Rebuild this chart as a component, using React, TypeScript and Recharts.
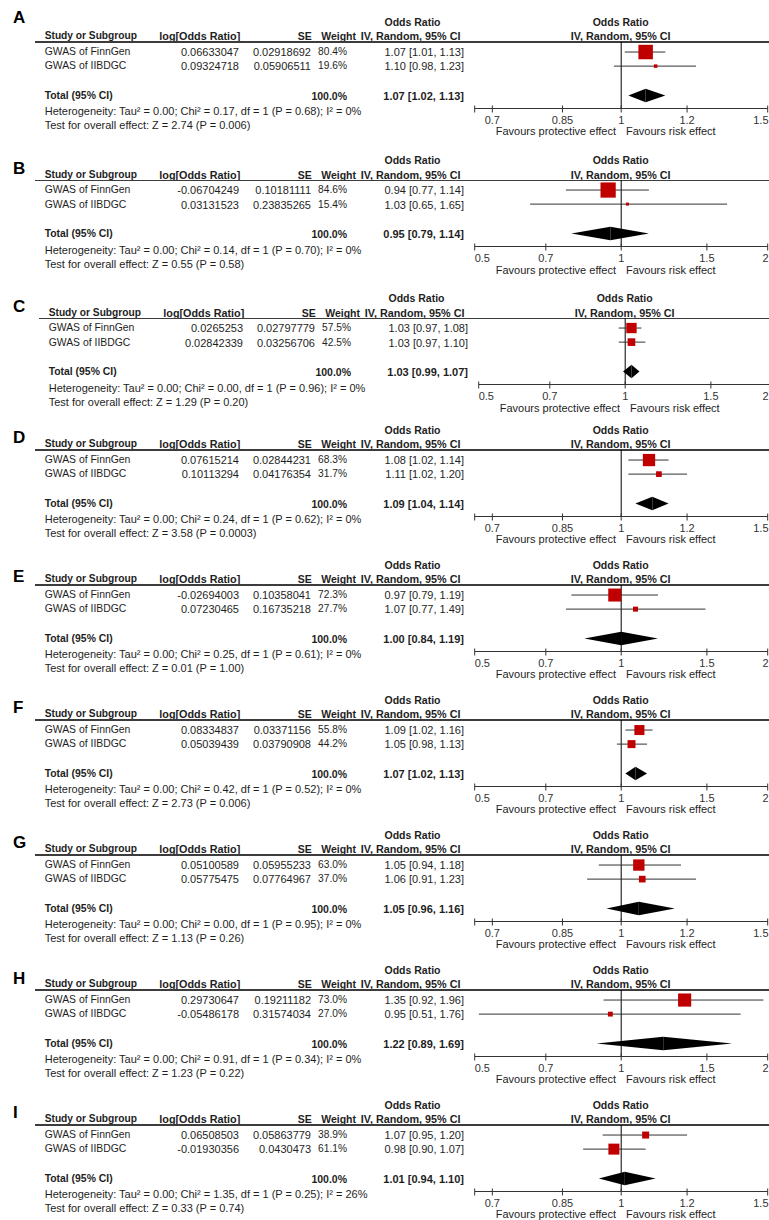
import React from 'react';
import { ScatterChart, Scatter, XAxis, YAxis, ReferenceLine, ReferenceArea } from 'recharts';

const panelLetters = ['A', 'B', 'C', 'D', 'E', 'F', 'G', 'H', 'I'];
const studyNames = ['GWAS of FinnGen', 'GWAS of IIBDGC'];

const logOddsRatio = [
  ['0.06633047', '0.09324718'],
  ['-0.06704249', '0.03131523'],
  ['0.0265253', '0.02842339'],
  ['0.07615214', '0.10113294'],
  ['-0.02694003', '0.07230465'],
  ['0.08334837', '0.05039439'],
  ['0.05100589', '0.05775475'],
  ['0.29730647', '-0.05486178'],
  ['0.06508503', '-0.01930356'],
];
const standardErrors = [
  ['0.02918692', '0.05906511'],
  ['0.10181111', '0.23835265'],
  ['0.02797779', '0.03256706'],
  ['0.02844231', '0.04176354'],
  ['0.10358041', '0.16735218'],
  ['0.03371156', '0.03790908'],
  ['0.05955233', '0.07764967'],
  ['0.19211182', '0.31574034'],
  ['0.05863779', '0.0430473'],
];
const weights = [
  [80.4, 19.6], [84.6, 15.4], [57.5, 42.5], [68.3, 31.7], [72.3, 27.7],
  [55.8, 44.2], [63.0, 37.0], [73.0, 27.0], [38.9, 61.1],
];
const oddsRatios = [
  [1.07, 1.10], [0.94, 1.03], [1.03, 1.03], [1.08, 1.11], [0.97, 1.07],
  [1.09, 1.05], [1.05, 1.06], [1.35, 0.95], [1.07, 0.98],
];
const ciLower = [
  [1.01, 0.98], [0.77, 0.65], [0.97, 0.97], [1.02, 1.02], [0.79, 0.77],
  [1.02, 0.98], [0.94, 0.91], [0.92, 0.51], [0.95, 0.90],
];
const ciUpper = [
  [1.13, 1.23], [1.14, 1.65], [1.08, 1.10], [1.14, 1.20], [1.19, 1.49],
  [1.16, 1.13], [1.18, 1.23], [1.96, 1.76], [1.20, 1.07],
];
const totalOr = [1.07, 0.95, 1.03, 1.09, 1.00, 1.07, 1.05, 1.22, 1.01];
const totalLower = [1.02, 0.79, 0.99, 1.04, 0.84, 1.02, 0.96, 0.89, 0.94];
const totalUpper = [1.13, 1.14, 1.07, 1.14, 1.19, 1.13, 1.16, 1.69, 1.10];
const chiSquare = ['0.17', '0.14', '0.00', '0.24', '0.25', '0.42', '0.00', '0.91', '1.35'];
const hetP = ['0.68', '0.70', '0.96', '0.62', '0.61', '0.52', '0.95', '0.34', '0.25'];
const iSquare = ['0', '0', '0', '0', '0', '0', '0', '0', '26'];
const zScores = ['2.74', '0.55', '1.29', '3.58', '0.01', '2.73', '1.13', '1.23', '0.33'];
const zP = ['0.006', '0.58', '0.20', '0.0003', '1.00', '0.006', '0.26', '0.22', '0.74'];
const axisLimit = [1.5, 2, 2, 1.5, 2, 2, 1.5, 2, 1.5];
const narrowTicks = [0.7, 0.85, 1, 1.2, 1.5];
const wideTicks = [0.5, 0.7, 1, 1.5, 2];

// layout (page px)
const headerY = [36, 174.7, 312.5, 444.3, 579, 714.3, 849.3, 984, 1119.3];
const letterY = [18.3, 169, 306.7, 438.3, 576.7, 708.3, 843.3, 979.3, 1113.3];
const shiftX = [0, 0, 4, 0, 0, 0, 0, 0, 0];
const CHART_LEFT = 470;

const FONT = "Arial, 'Liberation Sans', sans-serif";
const TEXT = '#1e1e1e';

const f2 = (v: number) => v.toFixed(2);
const ciText = (o: number, l: number, h: number) => `${f2(o)} [${f2(l)}, ${f2(h)}]`;

function T({ x, y, children, align = 'left', bold = false, size = 11 }: any) {
  const tr = align === 'right' ? 'translateX(-100%)' : align === 'center' ? 'translateX(-50%)' : undefined;
  return (
    <div style={{
      position: 'absolute', left: x, top: y - 7, lineHeight: '14px', height: 14,
      fontSize: size, fontWeight: bold ? 'bold' : 'normal', whiteSpace: 'nowrap',
      transform: tr, color: TEXT, fontFamily: FONT,
    }}>{children}</div>
  );
}

function AxisTick(props: any) {
  const { x, y, payload, limit, shift } = props;
  const v = payload.value;
  const axisY = y - 6;
  const isStart = Math.abs(v - 1 / limit) < 1e-6;
  const isEnd = Math.abs(v - limit) < 1e-6;
  const label = isStart && limit !== 2 ? '' : String(v);
  const anchor = isStart ? 'start' : isEnd ? 'end' : 'middle';
  // keep the last label inside the page
  const tx = isEnd ? Math.min(x + 1.3, 768.5 - CHART_LEFT - shift) : x;
  return (
    <g>
      <line x1={x} x2={x} y1={axisY - 3} y2={axisY + 4} stroke="#333" strokeWidth={1} />
      {label && (
        <text x={tx} y={axisY + 15} textAnchor={anchor} fontSize={11} fill="#333" fontFamily={FONT}>
          {label}
        </text>
      )}
    </g>
  );
}

const Square = (props: any) => {
  const { cx, cy, payload } = props;
  const s = Math.max(3, payload.w * 0.18);
  return <rect x={cx - s / 2} y={cy - s / 2} width={s} height={s} fill="#c00000" />;
};

const leftHalf = (p: any) => (
  <polygon points={`${p.x},${p.y + p.height / 2} ${p.x + p.width},${p.y} ${p.x + p.width},${p.y + p.height}`} fill="#000" />
);
const rightHalf = (p: any) => (
  <polygon points={`${p.x},${p.y} ${p.x + p.width},${p.y + p.height / 2} ${p.x},${p.y + p.height}`} fill="#000" />
);

function Panel({ i }: { i: number }) {
  const H = 36;
  const limit = axisLimit[i];
  const ticks = limit === 2 ? wideTicks : [1 / limit, ...narrowTicks];
  const rowPos = [0.77, 1.85];
  const totalPos = 4.1;
  const pts = [0, 1].map((k) => ({ x: oddsRatios[i][k], y: rowPos[k], w: weights[i][k] }));
  const textRows = [H + 15.5, H + 30];

  return (
    <div style={{ position: 'absolute', left: shiftX[i], top: headerY[i] - H, width: 769, height: 135 }}>
      {/* headers */}
      <T x={412.5} y={H - 14.5} bold size={10.5} align="center">Odds Ratio</T>
      <T x={620.7} y={H - 14.5} bold size={10.5} align="center">Odds Ratio</T>
      <T x={44.7} y={H} bold size={10.2}>Study or Subgroup</T>
      <T x={159.3} y={H} bold size={10.8}>log[Odds Ratio]</T>
      <T x={311.7} y={H} bold size={10.5} align="right">SE</T>
      <T x={356} y={H} bold size={10.5} align="right">Weight</T>
      <T x={360.7} y={H} bold size={10.8}>IV, Random, 95% CI</T>
      <T x={620.7} y={H} bold size={10.8} align="center">IV, Random, 95% CI</T>
      <div style={{ position: 'absolute', left: 35, top: H + 5, width: 769 - 35, height: 1.5, background: '#3c3c3c' }} />

      {/* study rows */}
      {[0, 1].map((k) => (
        <React.Fragment key={k}>
          <T x={44.7} y={textRows[k]} size={10.4}>{studyNames[k]}</T>
          <T x={239} y={textRows[k]} align="right">{logOddsRatio[i][k]}</T>
          <T x={311} y={textRows[k]} align="right">{standardErrors[i][k]}</T>
          <T x={347} y={textRows[k]} size={10.2} align="right">{weights[i][k].toFixed(1)}%</T>
          <T x={464} y={textRows[k]} align="right">{ciText(oddsRatios[i][k], ciLower[i][k], ciUpper[i][k])}</T>
        </React.Fragment>
      ))}

      <T x={44.7} y={H + 59.5} bold size={10.4}>Total (95% CI)</T>
      <T x={347} y={H + 59.5} bold size={10.5} align="right">100.0%</T>
      <T x={464} y={H + 59.5} bold align="right">{ciText(totalOr[i], totalLower[i], totalUpper[i])}</T>
      <T x={44.7} y={H + 75}>
        {`Heterogeneity: Tau² = 0.00; Chi² = ${chiSquare[i]}, df = 1 (P = ${hetP[i]}); I² = ${iSquare[i]}%`}
      </T>
      <T x={44.7} y={H + 89}>{`Test for overall effect: Z = ${zScores[i]} (P = ${zP[i]})`}</T>

      <T x={616} y={H + 95} align="right">Favours protective effect</T>
      <T x={626} y={H + 95}>Favours risk effect</T>

      <div style={{ position: 'absolute', left: CHART_LEFT, top: H + 5.5 }}>
        <ScatterChart width={302} height={96.5} margin={{ top: 0, right: 4.3, bottom: 0, left: 4.7 }}>
          <XAxis
            type="number"
            dataKey="x"
            scale="log"
            domain={[1 / limit, limit]}
            allowDataOverflow
            ticks={ticks}
            interval={0}
            height={30}
            tickSize={4}
            tickMargin={2}
            tickLine={false}
            axisLine={{ stroke: '#333', strokeWidth: 1 }}
            tick={(p: any) => <AxisTick {...p} limit={limit} shift={shiftX[i]} />}
          />
          <YAxis type="number" dataKey="y" domain={[0, 5.1]} reversed hide allowDataOverflow />
          <ReferenceLine x={1} stroke="#000" strokeWidth={1} />
          {[0, 1].map((k) => (
            <ReferenceLine
              key={k}
              segment={[{ x: ciLower[i][k], y: rowPos[k] }, { x: ciUpper[i][k], y: rowPos[k] }]}
              stroke="#333"
              strokeWidth={1}
            />
          ))}
          <ReferenceArea
            x1={totalLower[i]} x2={totalOr[i]} y1={totalPos - 0.52} y2={totalPos + 0.52}
            shape={leftHalf}
          />
          <ReferenceArea
            x1={totalOr[i]} x2={totalUpper[i]} y1={totalPos - 0.52} y2={totalPos + 0.52}
            shape={rightHalf}
          />
          <Scatter data={pts} shape={Square} isAnimationActive={false} />
        </ScatterChart>
      </div>
    </div>
  );
}

export default function App() {
  return (
    <div style={{ position: 'absolute', left: 0, top: 0, width: 769, height: 1220, background: '#fff', fontFamily: FONT, overflow: 'hidden' }}>
      {panelLetters.map((L, i) => (
        <div key={L} style={{
          position: 'absolute', left: 13, top: letterY[i] - 10, lineHeight: '20px',
          fontSize: 17, fontWeight: 'bold', color: '#000', fontFamily: FONT,
        }}>{L}</div>
      ))}
      {panelLetters.map((L, i) => <Panel key={L} i={i} />)}
    </div>
  );
}
